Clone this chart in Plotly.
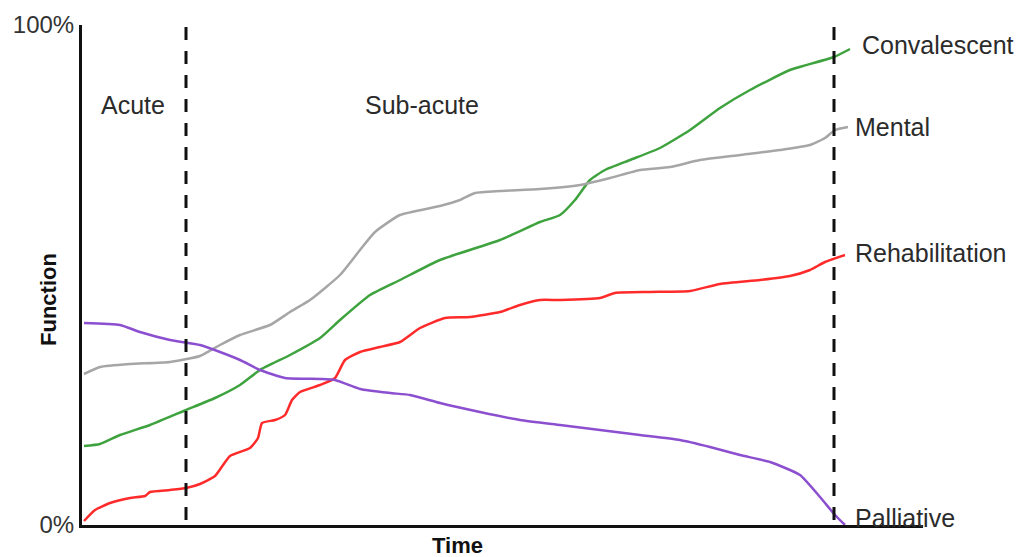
import plotly.graph_objects as go

# Time axis in arbitrary units (0..841), Function in percent (0..100)
conv_t = [2, 18, 38, 68, 104, 133, 158, 178, 208, 238, 258, 288, 318, 358, 418, 458, 478, 493, 508, 523, 548, 578, 608, 638, 668, 708, 752, 768]
conv_f = [15.8, 16.2, 18, 20, 23, 25.4, 28, 31, 34, 37.4, 41, 46, 49, 53, 57, 60.6, 62, 65, 69, 71, 73, 75.4, 79, 83.4, 87, 91, 93.6, 95.2]

ment_t = [2, 18, 48, 88, 118, 138, 158, 188, 208, 228, 258, 278, 293, 318, 358, 378, 393, 418, 458, 498, 528, 558, 588, 618, 658, 698, 728, 743, 753, 766]
ment_f = [30.2, 31.6, 32.2, 32.6, 33.8, 36, 38, 40, 42.6, 45, 50, 55, 58.6, 62, 63.8, 65, 66.4, 66.8, 67.2, 68, 69.4, 71, 71.6, 73, 74, 75, 76, 77.4, 79, 79.6]

rehab_t = [2, 13, 28, 48, 63, 68, 88, 104, 118, 133, 148, 168, 176, 180, 193, 203, 210, 218, 238, 253, 263, 278, 298, 318, 338, 363, 388, 418, 438, 458, 478, 518, 533, 568, 608, 638, 678, 708, 728, 743, 763]
rehab_f = [0.8, 3, 4.4, 5.4, 5.8, 6.6, 7, 7.4, 8.2, 9.8, 13.8, 15.4, 17.4, 20.4, 21, 22, 25, 26.6, 28, 29.4, 33, 34.6, 35.6, 36.6, 39.4, 41.4, 41.6, 42.6, 44, 45, 45, 45.4, 46.4, 46.6, 46.8, 48.2, 49, 49.8, 51, 52.6, 54]

pall_t = [2, 38, 58, 88, 118, 138, 158, 178, 203, 238, 253, 278, 308, 328, 358, 398, 438, 478, 518, 558, 598, 628, 658, 688, 718, 738, 753, 763]
pall_f = [40.4, 40, 38.6, 37, 36, 34.6, 33, 31, 29.4, 29.2, 29, 27.2, 26.4, 26, 24.4, 22.6, 21, 20, 19, 18, 17, 15.6, 14, 12.6, 10, 5.6, 2, 0]

series = [
    ("Convalescent", conv_t, conv_f, "#3ea33e"),
    ("Mental", ment_t, ment_f, "#a6a6a6"),
    ("Rehabilitation", rehab_t, rehab_f, "#ff2b2b"),
    ("Palliative", pall_t, pall_f, "#8c4fcf"),
]

phase_bounds = [104, 752]
phase_labels = ["Acute", "Sub-acute"]
phase_label_t = [51, 340]

end_labels = ["Convalescent", "Mental", "Rehabilitation", "Palliative"]
end_label_t = [778, 771, 771, 771]
end_label_f = [96, 79.6, 54.4, 1.4]

tick_vals = [0, 100]
tick_text = ["0%", "100%"]

FONT = "Liberation Sans, Arial, sans-serif"
TXT = "#2b2b2b"

fig = go.Figure()
for name, t, f, c in series:
    fig.add_trace(go.Scatter(x=t, y=f, mode="lines", name=name,
                             line=dict(color=c, width=2.5, shape="spline", smoothing=0.5),
                             cliponaxis=False, showlegend=False, hoverinfo="skip"))

for b in phase_bounds:
    fig.add_shape(type="line", xref="x", yref="y", x0=b, x1=b, y0=1, y1=100,
                  line=dict(color="#111111", width=3, dash="13px,11px"))

for lab, t in zip(phase_labels, phase_label_t):
    fig.add_annotation(x=t, y=84, xref="x", yref="y", text=lab, showarrow=False,
                       font=dict(family=FONT, size=25, color=TXT), xanchor="center", yanchor="middle")

for lab, t, f in zip(end_labels, end_label_t, end_label_f):
    fig.add_annotation(x=t, y=f, xref="x", yref="y", text=lab, showarrow=False,
                       font=dict(family=FONT, size=25, color=TXT), xanchor="left", yanchor="middle")

fig.add_annotation(x=-34/841, y=0.45, xref="paper", yref="paper", text="<b>Function</b>",
                   textangle=-90, showarrow=False, font=dict(family=FONT, size=22, color="#111111"),
                   xanchor="center", yanchor="middle")
fig.add_annotation(x=(457-82)/841, y=-20/500, xref="paper", yref="paper", text="<b>Time</b>",
                   showarrow=False, font=dict(family=FONT, size=22, color="#111111"),
                   xanchor="center", yanchor="middle")

# page has an 8px body margin, so the figure is shrunk/offset accordingly
fig.update_layout(
    width=1019, height=549,
    margin=dict(l=74, r=104, t=17, b=32, autoexpand=False),
    paper_bgcolor="white", plot_bgcolor="white",
    xaxis=dict(range=[0, 841], showgrid=False, zeroline=False, showticklabels=False, automargin=False,
               showline=True, linecolor="#111111", linewidth=3, ticks=""),
    yaxis=dict(range=[0, 100], showgrid=False, zeroline=False, tickvals=tick_vals, ticktext=tick_text,
               tickfont=dict(family=FONT, size=24, color="#333333"), automargin=False,
               showline=True, linecolor="#111111", linewidth=3, ticks=""),
)

fig.write_html("out.html")
